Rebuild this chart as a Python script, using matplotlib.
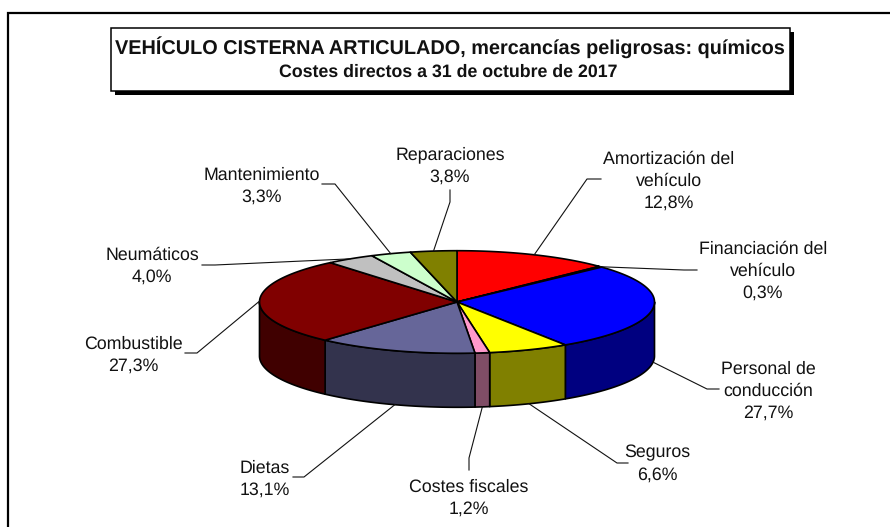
import numpy as np
import matplotlib
matplotlib.use('Agg')
import matplotlib.pyplot as plt
from matplotlib.colors import to_rgb
from matplotlib.patches import Polygon, Rectangle

plt.rcParams['font.family'] = ['Liberation Sans', 'DejaVu Sans']
plt.rcParams['text.hinting'] = 'none'

# Data
categories = ['Amortización del\nvehículo', 'Financiación del\nvehículo', 'Personal de\nconducción',
              'Seguros', 'Costes fiscales', 'Dietas', 'Combustible', 'Neumáticos',
              'Mantenimiento', 'Reparaciones']
values = [12.8, 0.3, 27.7, 6.6, 1.2, 13.1, 27.3, 4.0, 3.3, 3.8]
colors = ['#FF0000', '#000000', '#0000FF', '#FFFF00', '#FF99CC',
          '#666699', '#800000', '#C0C0C0', '#CCFFCC', '#808000']
title_1 = 'VEHÍCULO CISTERNA ARTICULADO, mercancías peligrosas: químicos'
title_2 = 'Costes directos a 31 de octubre de 2017'

# Layout in pixels
label_pos = [(669, 181), (763, 271), (768, 391), (657, 464), (469, 498),
             (265, 479), (133, 355), (152, 266), (262, 186), (450, 166)]
knees = [(587, 179), (684, 270), (707, 389), (617, 463), (469, 458),
         (304, 477), (197, 353), (215, 265), (335, 184), (450, 202)]
ends = [(601, 179), (697, 270), (719, 389), (628, 463), (469, 470),
        (293, 477), (185, 353), (202, 265), (322, 184), (450, 190)]

cx, cy, rx, ry, depth = 457, 302, 197.5, 51.3, 54


def rim(a):
    # a is the angle in degrees, clockwise from the top of the pie
    a = np.radians(a)
    return cx + rx * np.sin(a), cy - ry * np.cos(a)


fig = plt.figure(figsize=(8.9, 5.27), dpi=100)
ax = fig.add_axes([0, 0, 1, 1])
ax.set_xlim(0, 890)
ax.set_ylim(527, 0)
ax.axis('off')

# Outer frame runs off the picture on the right and at the bottom
ax.add_patch(Rectangle((9, 14), 900, 600, fc='none', ec='#b0b0b0', lw=0.8, zorder=1))
ax.add_patch(Rectangle((8, 13), 900, 600, fc='white', ec='black', lw=1.6, zorder=1))

# Title box with shadow
ax.add_patch(Rectangle((114.5, 31.5), 679.5, 63, fc='black', ec='none', zorder=2))
ax.add_patch(Rectangle((111, 28), 679, 63, fc='white', ec='black', lw=1.1, zorder=3))
ax.text(450, 47.5, title_1, ha='center', va='center', fontsize=14.35, fontweight='bold',
        color='#111111', zorder=4)
ax.text(448.5, 72.5, title_2, ha='center', va='center', fontsize=12.8, fontweight='bold',
        color='#111111', zorder=4)

shares = np.array(values) / sum(values) * 360
starts = np.concatenate([[0], np.cumsum(shares)[:-1]])
stops = starts + shares

# Side wall: only the front half of the rim shows
for c, a0, a1 in zip(colors, starts, stops):
    lo, hi = max(a0, 90), min(a1, 270)
    if lo >= hi:
        continue
    xs, ys = rim(np.linspace(lo, hi, 60))
    pts = np.r_[np.c_[xs, ys], np.c_[xs[::-1], ys[::-1] + depth]]
    side = tuple(v * 0.5 for v in to_rgb(c))
    ax.add_patch(Polygon(pts, fc=side, ec='black', lw=1.2, joinstyle='round', zorder=5))

# Top face
for c, a0, a1 in zip(colors, starts, stops):
    xs, ys = rim(np.linspace(a0, a1, 80))
    pts = np.r_[[(cx, cy)], np.c_[xs, ys]]
    ax.add_patch(Polygon(pts, fc=c, ec='black', lw=1.2, joinstyle='round', zorder=6))

# Labels and leader lines
for name, v, a0, a1, pos, knee, end in zip(categories, values, starts, stops, label_pos, knees, ends):
    mid = (a0 + a1) / 2
    x0, y0 = rim(mid)
    if 90 < mid < 270:
        y0 += depth
    ax.plot([x0, knee[0], end[0]], [y0, knee[1], end[1]], color='#111111', lw=0.8, zorder=7,
            solid_joinstyle='round')
    pct = f'{v:.1f}%'.replace('.', ',')
    ax.text(pos[0], pos[1], f'{name}\n{pct}', ha='center', va='center', fontsize=12.8,
            linespacing=1.4, color='#111111', zorder=8)

fig.savefig('out.png', dpi=100)
plt.close(fig)
